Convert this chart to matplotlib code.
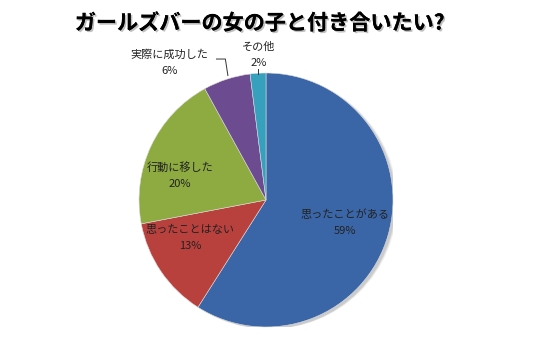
import matplotlib.pyplot as plt
import matplotlib.patheffects as pe

plt.rcParams['font.family'] = ['Noto Sans CJK JP', 'DejaVu Sans']

labels = ['思ったことがある', '思ったことはない', '行動に移した', '実際に成功した', 'その他']
values = [59, 13, 20, 6, 2]
colors = ['#3a66a7', '#b9413d', '#8dab41', '#6d4b90', '#36a0bd']

# label centres (data coords, pie radius = 1)
label_pos = [(0.62, -0.18), (-0.60, -0.30), (-0.68, 0.19), (-0.76, 1.08), (-0.06, 1.14)]

fig = plt.figure(figsize=(5.4, 3.55), dpi=100)
ax = fig.add_axes([139 / 540, 28 / 355, 254 / 540, 254 / 355])

# soft shadow
for i, a in enumerate([0.05, 0.07, 0.09]):
    sh = plt.Circle((0.035 - i * 0.008, -0.015), 1.0, color='black', alpha=a, lw=0)
    ax.add_patch(sh)

wedges, _ = ax.pie(values, colors=colors, startangle=90, counterclock=False,
                   radius=1.0, wedgeprops=dict(linewidth=0.4, edgecolor='#dddddd'))

for lab, v, (x, y) in zip(labels, values, label_pos):
    ax.text(x, y, f'{lab}\n{v}%', ha='center', va='center', fontsize=8,
            color='#222222', linespacing=1.75, clip_on=False)

# leader lines for small slices
ax.plot([-0.39, -0.32, -0.30], [1.11, 1.11, 0.98], color='#333333', lw=0.7, clip_on=False)
ax.plot([-0.06, -0.06], [1.03, 0.99], color='#333333', lw=0.7, clip_on=False)

ax.set_xlim(-1, 1)
ax.set_ylim(-1, 1)
ax.set_aspect('equal')
ax.axis('off')

fig.text(0.481, 0.935, 'ガールズバーの女の子と付き合いたい?', ha='center', va='center',
         fontsize=15.2, fontweight='bold', color='black',
         path_effects=[pe.withSimplePatchShadow(offset=(1.2, -1.2), shadow_rgbFace='gray', alpha=0.5), pe.Normal()])

fig.savefig('out.png', dpi=100)
